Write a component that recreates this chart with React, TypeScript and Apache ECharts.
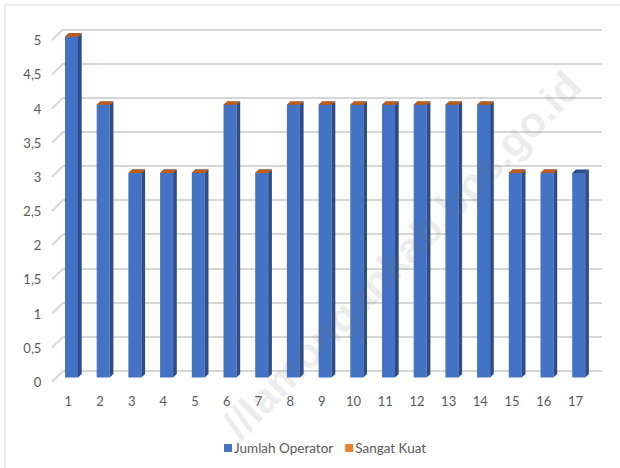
import React, { useEffect, useRef } from "react";
import * as echarts from "echarts";

const categories = ["1", "2", "3", "4", "5", "6", "7", "8", "9", "10", "11", "12", "13", "14", "15", "16", "17"];
const jumlahOperator = [5, 4, 3, 3, 3, 4, 3, 4, 4, 4, 4, 4, 4, 4, 3, 3, 3];
const sangatKuat = [0, 0, 0, 0, 0, 0, 0, 0, 0, 0, 0, 0, 0, 0, 0, 0, null];
const yTicks = [0, 0.5, 1, 1.5, 2, 2.5, 3, 3.5, 4, 4.5, 5];
const seriesNames = ["Jumlah Operator", "Sangat Kuat"];
const watermarkText = "//lamongankab.bps.go.id";

const FONT = "Lato, 'Open Sans', sans-serif";
const DEPTH_X = 3.7;
const DEPTH_Y = 3.4;

export default function App() {
  const ref = useRef<HTMLDivElement>(null);

  useEffect(() => {
    if (!ref.current) return;
    const chart = echarts.init(ref.current, undefined, { renderer: "svg" });

    const barShapes = (api: any, base: number, height: number, topColor: string, withBody: boolean) => {
      const idx = api.value(0);
      const top = api.coord([idx, base + height]);
      const bot = api.coord([idx, base]);
      const band = api.size([1, 0])[0];
      const w = band * 0.41;
      const left = top[0] - w / 2;
      const right = left + w;
      const children: any[] = [];
      if (withBody) {
        children.push({
          type: "rect",
          shape: { x: left, y: top[1], width: w, height: bot[1] - top[1] },
          style: { fill: "#4472C4" },
        });
        children.push({
          type: "polygon",
          shape: {
            points: [
              [right, top[1]],
              [right + DEPTH_X, top[1] - DEPTH_Y],
              [right + DEPTH_X, bot[1] - DEPTH_Y],
              [right, bot[1]],
            ],
          },
          style: { fill: "#2C4D87" },
        });
      }
      children.push({
        type: "polygon",
        shape: {
          points: [
            [left, top[1]],
            [left + DEPTH_X, top[1] - DEPTH_Y],
            [right + DEPTH_X, top[1] - DEPTH_Y],
            [right, top[1]],
          ],
        },
        style: { fill: topColor },
      });
      return { type: "group", children };
    };

    const option: any = {
      animation: false,
      backgroundColor: "#ffffff",
      textStyle: { fontFamily: FONT },
      grid: [
        { left: 55.65, right: 25.45, top: 36.7, bottom: 90.5 },
        { left: 63.3, right: 18, top: 29.3, bottom: 97.2 },
        { left: 52.4, right: 28.7, top: 40.3, bottom: 86.2 },
      ],
      xAxis: [
        { type: "category", gridIndex: 0, data: categories, show: false },
        { type: "value", gridIndex: 1, min: 0, max: 1, show: false },
        {
          type: "category",
          gridIndex: 2,
          data: categories,
          axisLine: { show: false },
          axisTick: { show: false },
          axisLabel: { color: "#595959", fontSize: 13, margin: 13, fontFamily: FONT },
        },
      ],
      yAxis: [
        { type: "value", gridIndex: 0, min: 0, max: 5, show: false },
        {
          type: "value",
          gridIndex: 1,
          min: 0,
          max: 5,
          interval: 0.5,
          axisLine: { show: false },
          axisTick: { show: false },
          axisLabel: { show: false },
          splitLine: { show: true, lineStyle: { color: "#d6d6d6", width: 2 } },
        },
        {
          type: "value",
          gridIndex: 2,
          min: 0,
          max: 5,
          interval: 0.5,
          axisLine: { show: false },
          axisTick: { show: false },
          splitLine: { show: false },
          axisLabel: {
            color: "#595959",
            fontSize: 13,
            margin: 11,
            fontFamily: FONT,
            formatter: (v: number) => String(v).replace(".", ","),
          },
        },
      ],
      legend: {
        left: 219,
        top: 436,
        itemWidth: 8,
        itemHeight: 8,
        itemGap: 12,
        icon: "rect",
        data: seriesNames,
        textStyle: { color: "#595959", fontSize: 13.5, fontFamily: FONT, padding: [0, 0, 0, -3] },
      },
      series: [
        {
          type: "custom",
          name: "wall-slashes",
          xAxisIndex: 1,
          yAxisIndex: 1,
          silent: true,
          data: yTicks.map((t) => [0, t]),
          renderItem: (params: any, api: any) => {
            const p = api.coord([0, api.value(1)]);
            return {
              type: "line",
              shape: { x1: p[0], y1: p[1], x2: p[0] - 11.3, y2: p[1] + 11 },
              style: { stroke: "#d6d6d6", lineWidth: 2 },
            };
          },
          z: 1,
        },
        {
          type: "custom",
          name: seriesNames[0],
          xAxisIndex: 0,
          yAxisIndex: 0,
          itemStyle: { color: "#4472C4" },
          data: jumlahOperator.map((v, i) => [i, v]),
          renderItem: (params: any, api: any) => barShapes(api, 0, api.value(1), "#2C4D87", true),
          clip: false,
          z: 3,
        },
        {
          type: "custom",
          name: seriesNames[1],
          xAxisIndex: 0,
          yAxisIndex: 0,
          itemStyle: { color: "#ED7D31" },
          data: sangatKuat.map((v, i) => [i, v === null ? "-" : v, jumlahOperator[i]]),
          renderItem: (params: any, api: any) => {
            const v = api.value(1);
            if (v === null || v === undefined || isNaN(v)) return null;
            return barShapes(api, api.value(2), v, "#C55A11", false);
          },
          clip: false,
          z: 4,
        },
      ],
      graphic: [
        {
          type: "rect",
          shape: { x: 5, y: 5, width: 640, height: 500 },
          style: { fill: "none", stroke: "#d9d9d9", lineWidth: 1 },
          silent: true,
          z: 0,
        },
        {
          type: "text",
          x: 402,
          y: 255,
          rotation: 0.8,
          silent: true,
          z: 100,
          style: {
            text: watermarkText,
            fontSize: 42,
            fontWeight: "bold",
            fontFamily: "'Liberation Sans', Arial, sans-serif",
            fill: "rgba(110,110,110,0.15)",
            align: "center",
            verticalAlign: "middle",
          },
        },
      ],
    };

    chart.setOption(option);
    return () => chart.dispose();
  }, []);

  return (
    <div
      ref={ref}
      style={{ position: "fixed", left: 0, top: 0, width: 620, height: 468 }}
    />
  );
}
